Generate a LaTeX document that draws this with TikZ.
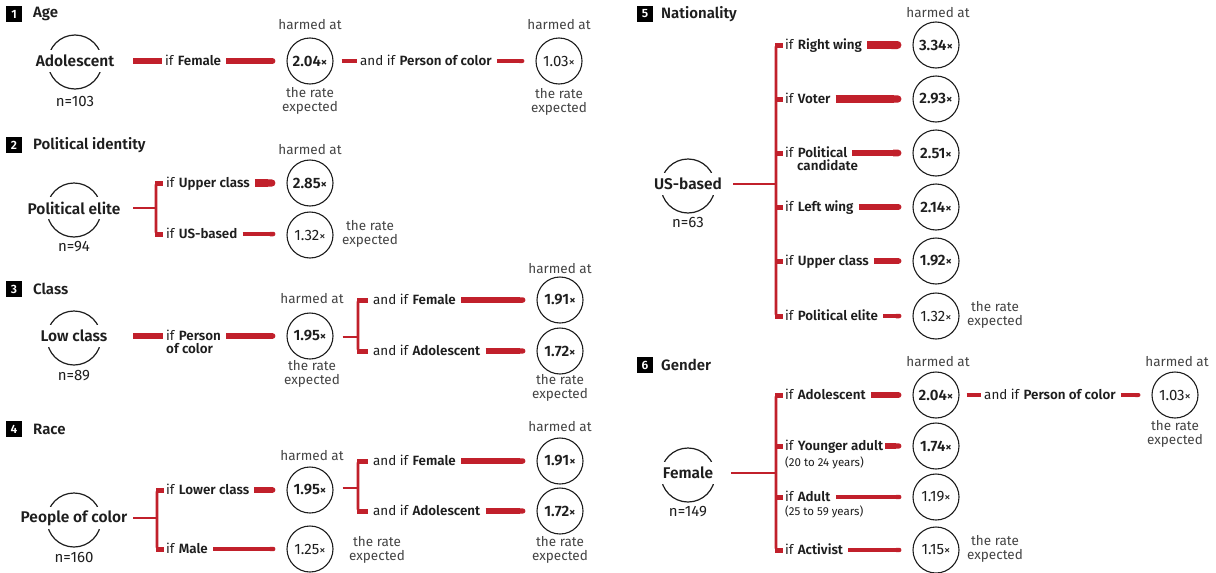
\documentclass[tikz,border=0pt]{standalone}
\usepackage{fontspec}
\setmainfont{Fira Sans}[BoldFont={Fira Sans SemiBold}]
\usetikzlibrary{arrows.meta,calc}
\definecolor{hred}{HTML}{C1202B}
\definecolor{ink}{HTML}{1E1E1E}
\definecolor{soft}{HTML}{444444}
\newcommand\tms{{\fontsize{12.5}{12}\selectfont ×}}
\tikzset{
  lbl/.style={anchor=west, inner sep=0pt, text=ink, font=\fontsize{13.4}{15}\selectfont, text height=10pt, text depth=1pt},
  sub/.style={anchor=west, inner sep=0pt, text=ink, font=\fontsize{11.5}{12}\selectfont},
  res/.style={circle, draw=ink, line width=1.1pt, minimum size=46pt, inner sep=0pt, text=ink, font=\fontsize{15}{15}\selectfont},
  src/.style={fill=white, inner xsep=2pt, minimum width=62pt, minimum height=22pt, text=ink, font=\fontsize{15.5}{17}\selectfont\bfseries},
  srcc/.style={draw=ink, line width=1.2pt},
  nn/.style={inner sep=0pt, text=ink, font=\fontsize{15}{16}\selectfont},
  hat/.style={inner sep=0pt, text=soft, font=\fontsize{13.5}{13.5}\selectfont, align=center},
  badge/.style={fill=black, text=white, minimum size=16pt, inner sep=0pt, font=\fontsize{12}{12}\selectfont\bfseries},
  ttl/.style={anchor=west, inner sep=0pt, text=ink, font=\fontsize{15}{15}\selectfont\bfseries},
  thk/.style={draw=hred, line width=#1, line cap=butt, shorten <=5pt, shorten >=11pt, -{Round Cap}},
  seg/.style={draw=hred, line width=#1, line cap=butt},
  brn/.style={draw=hred, line width=2.6pt},
  tck/.style={draw=hred, line width=5pt, line cap=butt},
}
\begin{document}
\begin{tikzpicture}[x=1pt,y=-1pt]
\useasboundingbox (0,0) rectangle (1216,573);
\fill[white] (0,0) rectangle (1216,573);

% ---------------- 1 Age
\node[badge] at (14,14) {1};
\node[ttl] at (33,14) {Age};
\draw[srcc] (75,62) circle[radius=27pt];
\node[src] (S1) at (75,61) {Adolescent};
\node[nn] at (75,101) {n=103};
\coordinate (S1o) at (133,61);
\node[lbl] (L11) at (165,61) {if \textbf{Female}};
\node[res] (R11) at (310,61) {\textbf{2.04\tms}};
\node[hat] at (310,25) {harmed at};
\node[hat] at (310,101) {the rate\\expected};
\node[lbl] (L12) at (360,61) {and if \textbf{Person of color}};
\node[res] (R12) at (559,61) {1.03\tms};
\node[hat] at (559,25) {harmed at};
\node[hat] at (559,102) {the rate\\expected};
\draw[seg=5.8, shorten >=3pt] (S1o) -- (L11.west);
\draw[thk=5.8] (L11.east) -- (L11.east -| R11.west);
\draw[seg=4, shorten <=8pt, shorten >=3pt] (R11.east) -- (L12.west);
\draw[thk=4] (L12.east) -- (L12.east -| R12.west);

% ---------------- 2 Political identity
\node[badge] at (14,145) {2};
\node[ttl] at (33,145) {Political identity};
\draw[srcc] (74,210) circle[radius=27pt];
\node[src] (S2) at (74,208) {Political elite};
\node[nn] at (74,247) {n=94};
\coordinate (S2o) at (133,208);
\coordinate (J2) at (156,208);
\node[lbl] (L21) at (166,183) {if \textbf{Upper class}};
\node[lbl] (L22) at (166,234) {if \textbf{US-based}};
\node[res] (R21) at (310,183) {\textbf{2.85\tms}};
\node[res] (R22) at (310,235) {1.32\tms};
\node[hat] at (310,150) {harmed at};
\node[hat] at (370,234) {the rate\\expected};
\draw[brn] (S2o) -- (J2);
\draw[brn, rounded corners=2pt] (162,183) -- (156,183) -- (156,234) -- (162,234);
\draw[tck] (155,183) -- (163,183);
\draw[tck] (155,234) -- (163,234);
\draw[thk=7.1] (L21.east) -- (L21.east -| R21.west);
\draw[thk=4.5] (L22.east) -- (L22.east -| R22.west);

% ---------------- 3 Class
\node[badge] at (14,289) {3};
\node[ttl] at (33,289) {Class};
\draw[srcc] (74,338) circle[radius=27pt];
\node[src] (S3) at (74,336) {Low class};
\node[nn] at (74,376) {n=89};
\coordinate (S3o) at (133,336);
\node[lbl] (L31) at (166,336) {if \textbf{Person}};
\node[lbl] (L31b) at (166,349) {\textbf{of color}};
\node[res] (R31) at (310,336) {\textbf{1.95\tms}};
\node[hat] at (312,299) {harmed at};
\node[hat] at (312,374) {the rate\\expected};
\draw[seg=5.6, shorten >=3pt] (S3o) -- (L31.west);
\draw[thk=5.6] (L31.east) -- (L31.east -| R31.west);
\coordinate (J3) at (358,337);
\draw[brn, shorten <=9pt] (R31.east |- J3) -- (J3);
\draw[brn, rounded corners=2pt] (366,300) -- (358,300) -- (358,351) -- (366,351);
\draw[tck] (357,300) -- (368,300);
\draw[tck] (357,351) -- (368,351);
\node[lbl] (L32) at (373,300) {and if \textbf{Female}};
\node[lbl] (L33) at (373,351) {and if \textbf{Adolescent}};
\node[res] (R32) at (560,300) {\textbf{1.91\tms}};
\node[res] (R33) at (560,351) {\textbf{1.72\tms}};
\node[hat] at (560,269) {harmed at};
\node[hat] at (560,388) {the rate\\expected};
\draw[thk=5.5] (L32.east) -- (L32.east -| R32.west);
\draw[thk=5.2] (L33.east) -- (L33.east -| R33.west);

% ---------------- 4 Race
\node[badge] at (14,429) {4};
\node[ttl] at (33,429) {Race};
\draw[srcc] (74,520) circle[radius=27pt];
\node[src] (S4) at (74,518) {People of color};
\node[nn] at (74,557) {n=160};
\coordinate (S4o) at (133,518);
\coordinate (J4) at (157,518);
\node[lbl] (L41) at (166,490) {if \textbf{Lower class}};
\node[lbl] (L42) at (166,549) {if \textbf{Male}};
\node[res] (R41) at (310,490) {\textbf{1.95\tms}};
\node[res] (R42) at (310,549) {1.25\tms};
\node[hat] at (312,456) {harmed at};
\node[hat] at (377,550) {the rate\\expected};
\draw[brn] (S4o) -- (J4);
\draw[brn, rounded corners=2pt] (163,490) -- (157,490) -- (157,549) -- (163,549);
\draw[tck] (156,490) -- (164,490);
\draw[tck] (156,549) -- (164,549);
\draw[thk=5.6] (L41.east) -- (L41.east -| R41.west);
\draw[thk=4.4] (L42.east) -- (L42.east -| R42.west);
\coordinate (J5) at (358,488);
\draw[brn, shorten <=9pt] (R41.east |- J5) -- (J5);
\draw[brn, rounded corners=2pt] (366,461) -- (358,461) -- (358,511) -- (366,511);
\draw[tck] (357,461) -- (368,461);
\draw[tck] (357,511) -- (368,511);
\node[lbl] (L43) at (373,461) {and if \textbf{Female}};
\node[lbl] (L44) at (373,511) {and if \textbf{Adolescent}};
\node[res] (R43) at (560,461) {\textbf{1.91\tms}};
\node[res] (R44) at (560,511) {\textbf{1.72\tms}};
\node[hat] at (560,427) {harmed at};
\node[hat] at (560,550) {the rate\\expected};
\draw[thk=5.5] (L43.east) -- (L43.east -| R43.west);
\draw[thk=5.2] (L44.east) -- (L44.east -| R44.west);

% ---------------- 5 Nationality
\node[badge] at (645,14) {5};
\node[ttl] at (661,14) {Nationality};
\draw[srcc] (688,186) circle[radius=27pt];
\node[src] (S5) at (688,184) {US-based};
\node[nn] at (688,222) {n=63};
\coordinate (S5o) at (733,184);
\coordinate (J6) at (776,184);
\draw[brn] (S5o) -- (J6);
\draw[brn, rounded corners=2pt] (782,45) -- (776,45) -- (776,316) -- (782,316);
\foreach \yy in {45,99,153,207,261,316} \draw[tck] (775,\yy) -- (783,\yy);
\node[lbl] (L51) at (785,45) {if \textbf{Right wing}};
\node[lbl] (L52) at (785,99) {if \textbf{Voter}};
\node[lbl] (L53) at (785,153) {if \textbf{Political}};
\node[lbl] (L53b) at (797,166) {\textbf{candidate}};
\node[lbl] (L54) at (785,207) {if \textbf{Left wing}};
\node[lbl] (L55) at (785,261) {if \textbf{Upper class}};
\node[lbl] (L56) at (785,316) {if \textbf{Political elite}};
\node[res] (R51) at (936,45) {\textbf{3.34\tms}};
\node[res] (R52) at (936,99) {\textbf{2.93\tms}};
\node[res] (R53) at (936,153) {\textbf{2.51\tms}};
\node[res] (R54) at (936,207) {\textbf{2.14\tms}};
\node[res] (R55) at (936,261) {\textbf{1.92\tms}};
\node[res] (R56) at (936,316) {1.32\tms};
\node[hat] at (938,13) {harmed at};
\node[hat] at (995,315) {the rate\\expected};
\draw[thk=8] (L51.east) -- (L51.east -| R51.west);
\draw[thk=7.3] (L52.east) -- (L52.east -| R52.west);
\draw[thk=6.6] (L53.east) -- (L53.east -| R53.west);
\draw[thk=5.9] (L54.east) -- (L54.east -| R54.west);
\draw[thk=5.6] (L55.east) -- (L55.east -| R55.west);
\draw[thk=4.5] (L56.east) -- (L56.east -| R56.west);

% ---------------- 6 Gender
\node[badge] at (645,365) {6};
\node[ttl] at (661,365) {Gender};
\draw[srcc] (688,475) circle[radius=27pt];
\node[src] (S6) at (688,473) {Female};
\node[nn] at (688,512) {n=149};
\coordinate (S6o) at (731,473);
\coordinate (J7) at (776,473);
\draw[brn] (S6o) -- (J7);
\draw[brn, rounded corners=2pt] (782,395) -- (776,395) -- (776,550) -- (782,550);
\foreach \yy in {395,446,497,550} \draw[tck] (775,\yy) -- (783,\yy);
\node[lbl] (L61) at (785,395) {if \textbf{Adolescent}};
\node[lbl] (L62) at (785,446) {if \textbf{Younger adult}};
\node[sub] at (785,463) {(20 to 24 years)};
\node[lbl] (L63) at (785,497) {if \textbf{Adult}};
\node[sub] at (785,512) {(25 to 59 years)};
\node[lbl] (L64) at (785,550) {if \textbf{Activist}};
\node[res] (R61) at (936,395) {\textbf{2.04\tms}};
\node[res] (R62) at (936,446) {\textbf{1.74\tms}};
\node[res] (R63) at (936,497) {1.19\tms};
\node[res] (R64) at (936,550) {1.15\tms};
\node[hat] at (938,362) {harmed at};
\node[hat] at (995,549) {the rate\\expected};
\draw[thk=5.8] (L61.east) -- (L61.east -| R61.west);
\draw[thk=5.3, shorten <=2pt] (L62.east) -- (L62.east -| R62.west);
\draw[thk=4.3] (L63.east) -- (L63.east -| R63.west);
\draw[thk=4.3] (L64.east) -- (L64.east -| R64.west);
\node[lbl] (L65) at (984,395) {and if \textbf{Person of color}};
\node[res] (R65) at (1175,395) {1.03\tms};
\node[hat] at (1177,362) {harmed at};
\node[hat] at (1175,434) {the rate\\expected};
\draw[seg=4, shorten <=7pt, shorten >=3pt] (R61.east) -- (L65.west);
\draw[thk=4] (L65.east) -- (L65.east -| R65.west);
\end{tikzpicture}
\end{document}
